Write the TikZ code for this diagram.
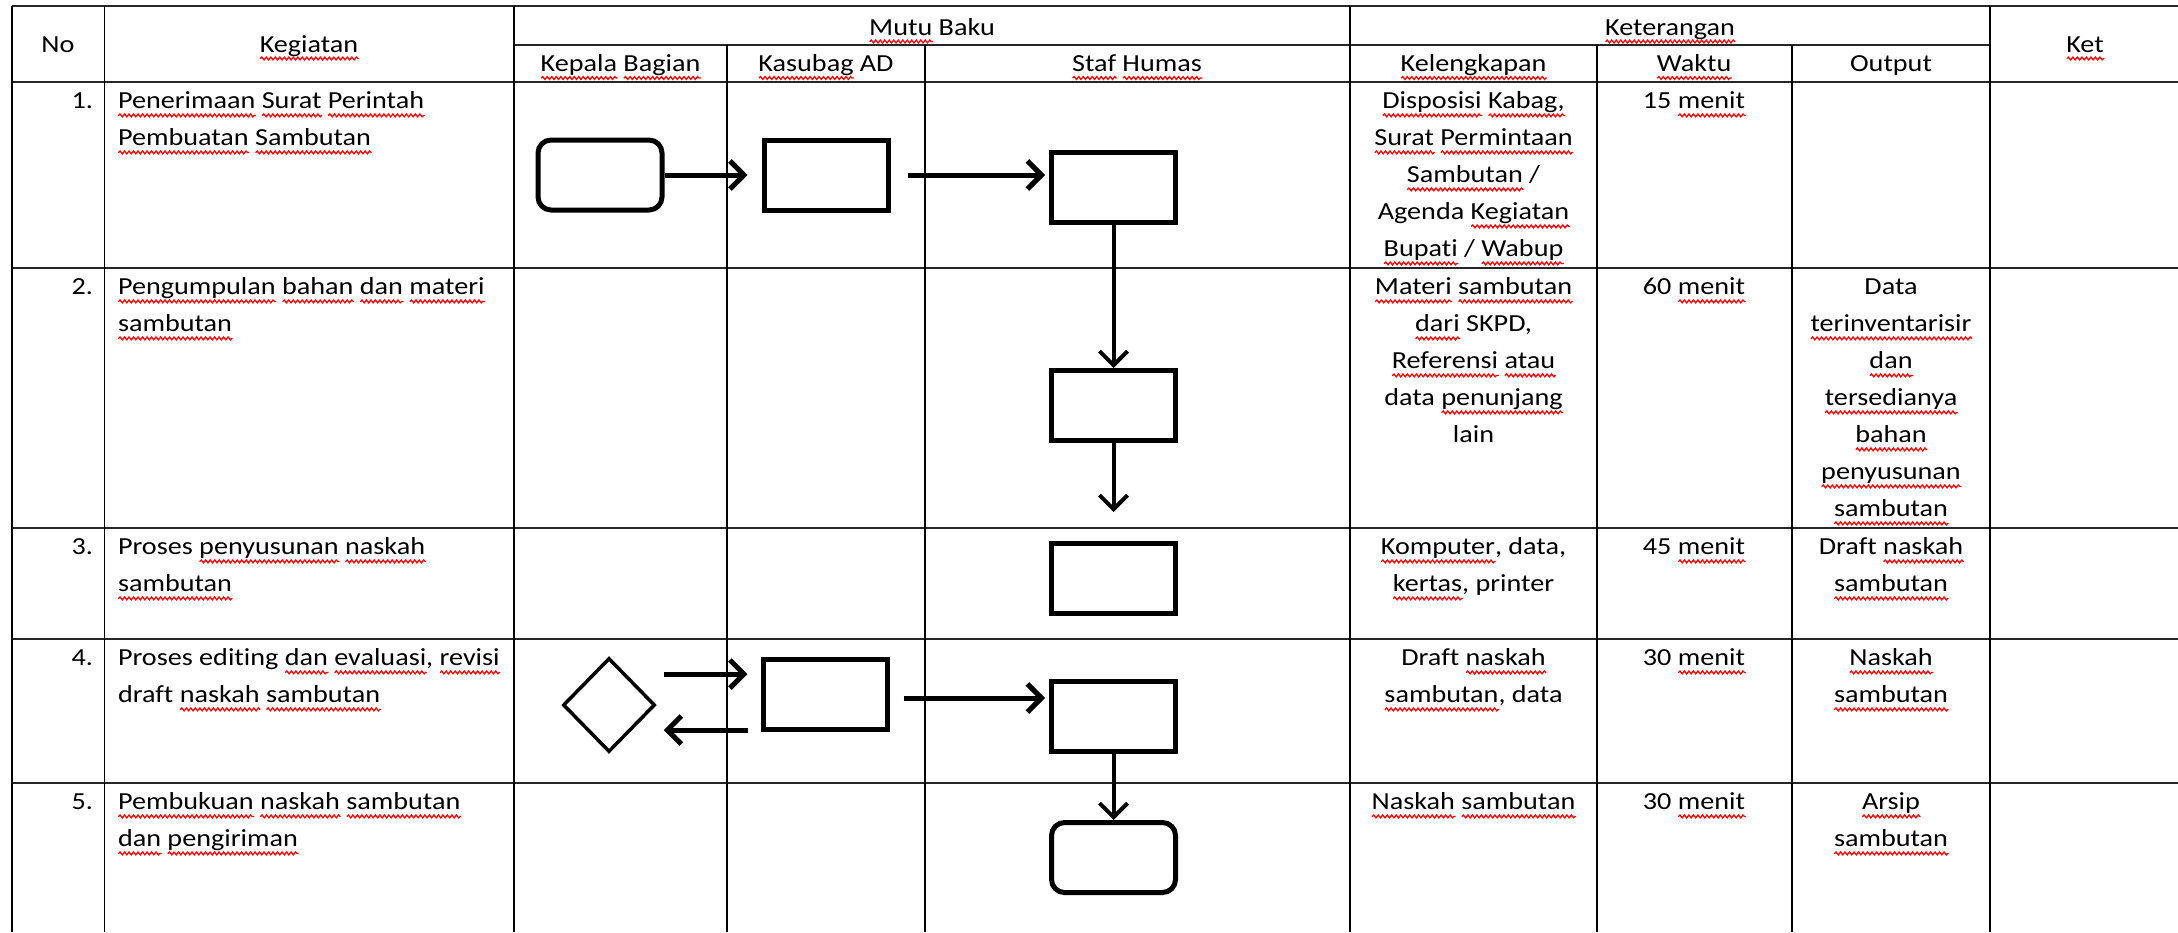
\documentclass[tikz,border=0pt]{standalone}
\usepackage{fontspec}
\setmainfont[FakeStretch=1.15,Ligatures={NoCommon}]{Carlito}
\usetikzlibrary{arrows.meta,shapes.geometric,decorations.pathmorphing}
% red wavy spell-check mark under a single word
\newsavebox\sqbox
\newcommand\sq[1]{\sbox\sqbox{#1}\leavevmode\rlap{\tikz[x=1pt,y=1pt,baseline=0pt]\draw[red, line width=1.3pt, line cap=round, decorate, decoration={snake, amplitude=1.4pt, segment length=4.5pt}] (0.5,-6.5) -- (\the\wd\sqbox,-6.5);}\usebox\sqbox}

\begin{document}
\begin{tikzpicture}[x=1pt,y=-1pt,
  txt/.style={inner sep=0pt, outer sep=0pt, font=\fontsize{24.5}{37}\selectfont},
  cellc/.style={txt, anchor=north, align=center},
  celll/.style={txt, anchor=north west, align=left},
  cellr/.style={txt, anchor=north east, align=right},
  hd/.style={txt, anchor=base},
  hrule/.style={line width=2.4pt, black!85},
  vrule/.style={line width=1.5pt, black},
  box/.style={draw, line width=5pt, minimum width=124pt, minimum height=70pt, inner sep=0pt},
  termbox/.style={box, rounded corners=13pt},
  decbox/.style={draw, diamond, line width=3.5pt, minimum width=92pt, minimum height=94pt, inner sep=0pt},
  flow/.style={line width=5pt, -{Straight Barb[length=14pt,width=28pt]}},
]
\useasboundingbox (0,0) rectangle (2178,932);

% ---------- table rules ----------
\draw[hrule] (12,6) -- (2178,6);
\draw[hrule] (514,45) -- (1990,45);
\foreach \yy in {82,268,528,639,783}
  \draw[hrule] (12,\yy) -- (2178,\yy);
\foreach \xx in {12,104.5,514,1350,1990}
  \draw[vrule] (\xx,6) -- (\xx,932);
\foreach \xx in {727,925,1597,1792}
  \draw[vrule] (\xx,45) -- (\xx,932);

% ---------- header ----------
\node[hd] (hNo)   at (58,52)     {No};
\node[hd] (hKeg)  at (309,52)    {\sq{Kegiatan}};
\node[hd] (hMutu) at (932,35)    {\sq{Mutu} Baku};
\node[hd] (hKep)  at (620.5,71.5){\sq{Kepala} \sq{Bagian}};
\node[hd] (hKas)  at (826,71.5)  {\sq{Kasubag} AD};
\node[hd] (hStaf) at (1137,71.5) {\sq{Staf} \sq{Humas}};
\node[hd] (hKetr) at (1670,35)   {\sq{Keterangan}};
\node[hd] (hKel)  at (1473.5,71.5){\sq{Kelengkapan}};
\node[hd] (hWak)  at (1694,71.5) {\sq{Waktu}};
\node[hd] (hOut)  at (1891,71.5) {Output};
\node[hd] (hKet)  at (2085,52)   {\sq{Ket}};

% ---------- row 1 ----------
\node[cellr] (n1) at (93,83) {\strut 1.};
\node[celll] (k1) at (118,83) {\strut\sq{Penerimaan} \sq{Surat} \sq{Perintah}\\\sq{Pembuatan} \sq{Sambutan}};
\node[cellc] (l1) at (1473.5,83) {\strut\sq{Disposisi} \sq{Kabag,}\\\sq{Surat} \sq{Permintaan}\\\sq{Sambutan} /\\Agenda \sq{Kegiatan}\\\sq{Bupati} / \sq{Wabup}};
\node[cellc] (w1) at (1694,83) {\strut 15 \sq{menit}};

% ---------- row 2 ----------
\node[cellr] (n2) at (93,269) {\strut 2.};
\node[celll] (k2) at (118,269) {\strut\sq{Pengumpulan} \sq{bahan} \sq{dan} \sq{materi}\\\sq{sambutan}};
\node[cellc] (l2) at (1473.5,269) {\strut\sq{Materi} \sq{sambutan}\\\sq{dari} SKPD,\\\sq{Referensi} \sq{atau}\\data \sq{penunjang}\\lain};
\node[cellc] (w2) at (1694,269) {\strut 60 \sq{menit}};
\node[cellc] (o2) at (1891,269) {\strut Data\\\sq{terinventarisir}\\\sq{dan}\\\sq{tersedianya}\\\sq{bahan}\\\sq{penyusunan}\\\sq{sambutan}};

% ---------- row 3 ----------
\node[cellr] (n3) at (93,529) {\strut 3.};
\node[celll] (k3) at (118,529) {\strut Proses \sq{penyusunan} \sq{naskah}\\\sq{sambutan}};
\node[cellc] (l3) at (1473.5,529) {\strut\sq{Komputer}, data,\\\sq{kertas}, printer};
\node[cellc] (w3) at (1694,529) {\strut 45 \sq{menit}};
\node[cellc] (o3) at (1891,529) {\strut Draft \sq{naskah}\\\sq{sambutan}};

% ---------- row 4 ----------
\node[cellr] (n4) at (93,640) {\strut 4.};
\node[celll] (k4) at (118,640) {\strut Proses editing \sq{dan} \sq{evaluasi}, \sq{revisi}\\draft \sq{naskah} \sq{sambutan}};
\node[cellc] (l4) at (1473.5,640) {\strut Draft \sq{naskah}\\\sq{sambutan}, data};
\node[cellc] (w4) at (1694,640) {\strut 30 \sq{menit}};
\node[cellc] (o4) at (1891,640) {\strut\sq{Naskah}\\\sq{sambutan}};

% ---------- row 5 ----------
\node[cellr] (n5) at (93,784) {\strut 5.};
\node[celll] (k5) at (118,784) {\strut\sq{Pembukuan} \sq{naskah} \sq{sambutan}\\\sq{dan} \sq{pengiriman}};
\node[cellc] (l5) at (1473.5,784) {\strut\sq{Naskah} \sq{sambutan}};
\node[cellc] (w5) at (1694,784) {\strut 30 \sq{menit}};
\node[cellc] (o5) at (1891,784) {\strut\sq{Arsip}\\\sq{sambutan}};

% ---------- flow shapes ----------
\node[termbox] (kep1) at (600,175)      {};
\node[box]     (kas1) at (826,175)      {};
\node[box]     (st1)  at (1113.5,187.5) {};
\node[box]     (st2)  at (1113.5,405.5) {};
\coordinate    (st2end) at (1113.5,512);
\node[box]     (st3)  at (1113.5,578)   {};
\node[decbox]  (dec4) at (609,705)      {};
\node[box]     (kas4) at (825,694.5)    {};
\node[box]     (st4)  at (1113.5,716)   {};
\node[termbox] (st5)  at (1113.5,857.5) {};

% ---------- flow connectors ----------
\draw[flow, shorten >=14pt] (kep1.east) -- (kas1.west);
\draw[flow, shorten <=17pt, shorten >=4pt] (kas1.east) -- (kas1.east -| st1.west);
\draw[flow, line width=4pt] (st1.south) -- (st2.north);
\draw[flow, line width=4pt] (st2.south) -- (st2end);
\draw[flow, shorten <=7pt, shorten >=13pt] ([yshift=31pt]dec4.east) -- ([yshift=31pt]dec4.east -| kas4.west);
\draw[flow, shorten <=13pt, shorten >=7pt] ([yshift=-35.5pt]kas4.west) -- ([yshift=-35.5pt]kas4.west -| dec4.east);
\draw[flow, shorten <=14pt, shorten >=4pt] ([yshift=-3.5pt]kas4.east) -- ([yshift=-3.5pt]kas4.east -| st4.west);
\draw[flow, line width=4pt] (st4.south) -- (st5.north);
\end{tikzpicture}
\end{document}
